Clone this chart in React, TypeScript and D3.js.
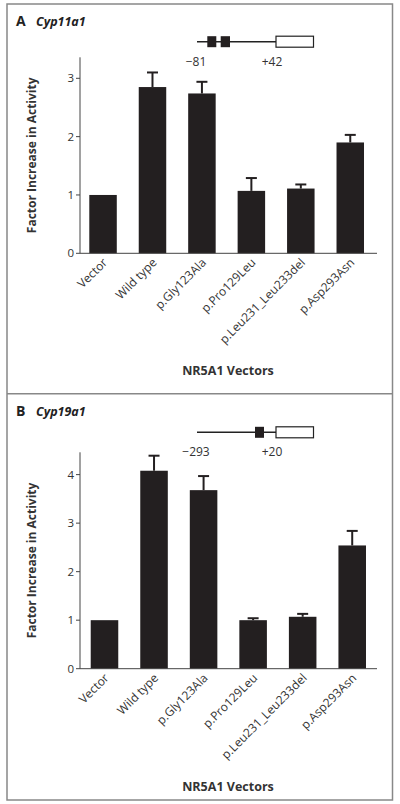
import React from "react";
import * as d3 from "d3";

const categories = ["Vector", "Wild type", "p.Gly123Ala", "p.Pro129Leu", "p.Leu231_Leu233del", "p.Asp293Asn"];
const cyp11Values = [1.0, 2.85, 2.74, 1.07, 1.11, 1.9];
const cyp11Errors = [0, 0.25, 0.2, 0.22, 0.07, 0.13];
const cyp19Values = [1.0, 4.08, 3.68, 1.0, 1.07, 2.54];
const cyp19Errors = [0, 0.31, 0.29, 0.04, 0.06, 0.3];
const cyp11Ticks = [0, 1, 2, 3];
const cyp19Ticks = [0, 1, 2, 3, 4];

const FONT = "'Open Sans', 'Noto Sans', sans-serif";
const TEXT = "#333";
const BAR = "#231f20";

type PanelProps = {
  letter: string;
  gene: string;
  values: number[];
  errors: number[];
  ticks: number[];
  yMax: number;
  yRange: [number, number];
  xRange: [number, number];
  top: number;
  promoter: { boxes: [number, number][]; left: string; right: string; lineY: number; };
};

function Panel(p: PanelProps) {
  const y = d3.scaleLinear().domain([0, p.yMax]).range(p.yRange);
  const x = d3.scaleBand<string>().domain(categories).range(p.xRange).paddingInner(0.444).paddingOuter(0.19);
  const bw = x.bandwidth();
  const y0 = y(0);
  const axisX = 80;
  const axisEnd = 377;
  const top = p.top;
  const ly = p.promoter.lineY;
  return (
    <g>
      <text x={16} y={top + 22} fontFamily={FONT} fontWeight="bold" fontSize={14} fill="#222">{p.letter}</text>
      <text x={36} y={top + 22} fontFamily={FONT} fontWeight="bold" fontStyle="italic" fontSize={12.5} fill="#222">{p.gene}</text>
      {/* promoter diagram */}
      <line x1={197} x2={276} y1={ly} y2={ly} stroke="#222" strokeWidth={1.6} />
      {p.promoter.boxes.map((b, i) => (
        <rect key={i} x={b[0]} y={ly - 5.5} width={b[1] - b[0]} height={11} fill={BAR} />
      ))}
      <rect x={276} y={ly - 5.5} width={37.5} height={11} fill="#fff" stroke="#222" strokeWidth={1.2} />
      <text x={196} y={ly + 24} textAnchor="middle" fontFamily={FONT} fontSize={12} fill={TEXT}>{p.promoter.left}</text>
      <text x={272} y={ly + 24} textAnchor="middle" fontFamily={FONT} fontSize={12} fill={TEXT}>{p.promoter.right}</text>
      {/* y axis */}
      <line x1={axisX} x2={axisX} y1={y(p.yMax)} y2={y0} stroke="#444" strokeWidth={1} />
      {p.ticks.map((t) => (
        <g key={t}>
          <line x1={axisX - 4} x2={axisX} y1={y(t)} y2={y(t)} stroke="#444" strokeWidth={1} />
          <text x={axisX - 6} y={y(t)} dy="0.35em" textAnchor="end" fontFamily={FONT} fontSize={11.5} fill={TEXT}>{t}</text>
        </g>
      ))}
      <text transform={`translate(36,${(y(p.yMax) + y0) / 2}) rotate(-90)`} textAnchor="middle" fontFamily={FONT} fontWeight="bold" fontSize={12} fill="#333">Factor Increase in Activity</text>
      {/* bars */}
      {categories.map((c, i) => {
        const bx = x(c) as number;
        const cx = bx + bw / 2;
        const v = p.values[i];
        const e = p.errors[i];
        return (
          <g key={c}>
            {e > 0 && (
              <g>
                <line x1={cx} x2={cx} y1={y(v)} y2={y(v + e)} stroke={BAR} strokeWidth={2} />
                <line x1={cx - 5.5} x2={cx + 5.5} y1={y(v + e)} y2={y(v + e)} stroke={BAR} strokeWidth={2} />
              </g>
            )}
            <rect x={bx} y={y(v)} width={bw} height={y0 - y(v)} fill={BAR} />
            <text transform={`translate(${cx + 5},${y0 + 10}) rotate(-45)`} textAnchor="end" fontFamily={FONT} fontSize={12} fill={TEXT}>{c}</text>
          </g>
        );
      })}
      <line x1={axisX} x2={axisEnd} y1={y0} y2={y0} stroke="#444" strokeWidth={1} />
      <text x={228} y={y0 + 122} textAnchor="middle" fontFamily={FONT} fontWeight="bold" fontSize={12.5} fill="#333">NR5A1 Vectors</text>
    </g>
  );
}

export default function App() {
  return (
    <svg width={400} height={804} style={{ position: "absolute", left: 0, top: 0, background: "#fff" }}>
      <rect x={0} y={0} width={400} height={804} fill="#fff" />
      <Panel
        letter="A"
        gene="Cyp11a1"
        values={cyp11Values}
        errors={cyp11Errors}
        ticks={cyp11Ticks}
        yMax={3.36}
        yRange={[253.3, 57.3]}
        xRange={[79.9, 373.4]}
        top={4}
        promoter={{ boxes: [[207.3, 216.3], [220.7, 230]], left: "\u221281", right: "+42", lineY: 41.7 }}
      />
      <Panel
        letter="B"
        gene="Cyp19a1"
        values={cyp19Values}
        errors={cyp19Errors}
        ticks={cyp19Ticks}
        yMax={4.46}
        yRange={[668.7, 452.3]}
        xRange={[81.3, 375.4]}
        top={394}
        promoter={{ boxes: [[255, 264]], left: "\u2212293", right: "+20", lineY: 432.3 }}
      />
      <rect x={7} y={4} width={385.5} height={796} fill="none" stroke="#888" strokeWidth={1.5} />
      <line x1={7} x2={392.5} y1={393.8} y2={393.8} stroke="#888" strokeWidth={1.5} />
    </svg>
  );
}
